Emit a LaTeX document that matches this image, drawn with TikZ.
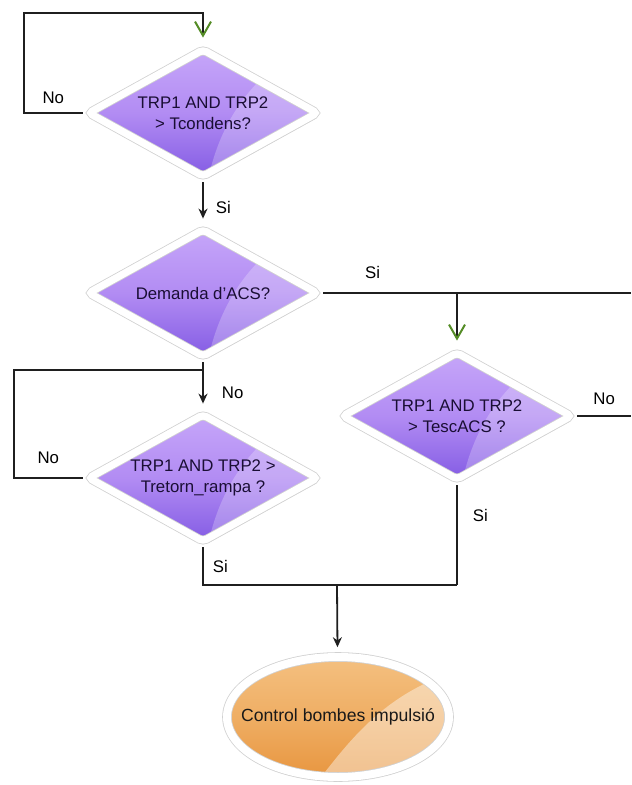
\documentclass[tikz,border=0pt]{standalone}
\usepackage{fontspec}
\setmainfont{Liberation Sans}
\usetikzlibrary{shapes.geometric, positioning, arrows, arrows.meta, shadows}

\definecolor{lilaclight}{RGB}{198,166,249}
\definecolor{lilac}{RGB}{178,140,243}
\definecolor{lilacdark}{RGB}{132,92,228}
\definecolor{amberlight}{RGB}{244,192,128}
\definecolor{amber}{RGB}{239,174,100}
\definecolor{amberdark}{RGB}{232,150,64}
\definecolor{inkblue}{RGB}{26,14,52}
\definecolor{tipgreen}{RGB}{84,140,38}

\newcommand\chartfont{\fontsize{8.4}{10.5}\selectfont}

\tikzstyle{decision} = [diamond, aspect=1.8, minimum width=116pt, minimum height=65pt, inner sep=1pt, align=center, text=inkblue, rounded corners=2pt, draw=black!18, double=white, double distance=3.6pt, outer sep=2.2pt, top color=lilaclight, bottom color=lilacdark, middle color=lilac, drop shadow={shadow xshift=1.2pt, shadow yshift=-1.8pt, opacity=.25}, path picture={\fill[white, opacity=.24] ([shift={(30pt,18pt)}]path picture bounding box.center) .. controls ([shift={(14pt,2pt)}]path picture bounding box.center) and ([shift={(6pt,-16pt)}]path picture bounding box.center) .. ([shift={(2pt,-36pt)}]path picture bounding box.center) -- ([shift={(80pt,-36pt)}]path picture bounding box.center) -- ([shift={(80pt,36pt)}]path picture bounding box.center) -- cycle;}]
\tikzstyle{terminal} = [ellipse, minimum width=111pt, minimum height=60pt, inner sep=0pt, text=black!90, draw=black!18, double=white, double distance=4pt, outer sep=2.4pt, top color=amberlight, bottom color=amberdark, middle color=amber, drop shadow={shadow xshift=1.2pt, shadow yshift=-1.8pt, opacity=.25}, path picture={\fill[white, opacity=.42] ([shift={(42pt,16pt)}]path picture bounding box.center) .. controls ([shift={(18pt,4pt)}]path picture bounding box.center) and ([shift={(4pt,-14pt)}]path picture bounding box.center) .. ([shift={(-10pt,-32pt)}]path picture bounding box.center) -- ([shift={(70pt,-32pt)}]path picture bounding box.center) -- ([shift={(70pt,32pt)}]path picture bounding box.center) -- cycle;}]
\tikzstyle{wire} = [line width=0.9pt, draw=black!88]
\tikzstyle{arrow} = [wire, -{Stealth[length=5pt, width=4.5pt]}, shorten >=2.5pt]
\tikzstyle{openarrow} = [wire, -{Straight Barb[length=7pt, width=8pt, line width=1pt, color=tipgreen]}, shorten >=3pt]
\tikzstyle{lbl} = [inner sep=1pt, text=black]

\begin{document}
\begin{tikzpicture}[x=0.5pt, y=-0.5pt, node distance=90pt, font=\chartfont]
  \useasboundingbox (0,0) rectangle (631,785);

  \node (cond) [decision] at (203,113) {TRP1 AND TRP2\\> Tcondens?};
  \node (demand) [decision, below of=cond] {Demanda d'ACS?};
  \node (ramp) [decision, below of=demand, node distance=92.5pt] {TRP1 AND TRP2 >\\Tretorn\_rampa ?};
  \node (esc) [decision] at (457,416) {TRP1 AND TRP2\\> TescACS ?};
  \node (pump) [terminal] at (338,717) {\makebox[60pt][c]{\fontsize{8.8}{10.5}\selectfont Control bombes impulsió}};

  \coordinate (looptop) at (24,13);
  \coordinate (loopleft) at (14,370);
  \coordinate (join) at (337,585);
  \coordinate (rightedge) at (631,0);

  % first check waits on itself
  \draw [openarrow] (cond.west) -- node[lbl, above=3pt] {No} (looptop |- cond.west) -- (looptop) -| (cond.north);
  \draw [arrow] (cond) -- node[lbl, right=5pt, pos=.6] {Si} (demand);

  % demand branch
  \draw [wire] (demand.east) -- node[lbl, above=5.5pt, pos=.16] {Si} (demand.east -| rightedge);
  \draw [openarrow] (esc.north |- demand.east) -- (esc.north);
  \draw [wire] (esc.east) -- node[lbl, above=4pt] {No} (esc.east -| rightedge);

  % no demand
  \draw [arrow] (demand) -- node[lbl, right=8pt, pos=.65] {No} (ramp);
  \draw [wire] (ramp.west) -- node[lbl, above=5.5pt] {No} (loopleft |- ramp.west) |- (demand.south |- loopleft);

  % both yes branches meet
  \draw [wire] (ramp.south) -- node[lbl, right=3.5pt, pos=.5] {Si} (ramp.south |- join) -- (esc.south |- join);
  \draw [wire] (esc.south) -- node[lbl, right=6.5pt, pos=.3] {Si} (esc.south |- join);
  \draw [arrow] (join) -- (pump);
\end{tikzpicture}
\end{document}
